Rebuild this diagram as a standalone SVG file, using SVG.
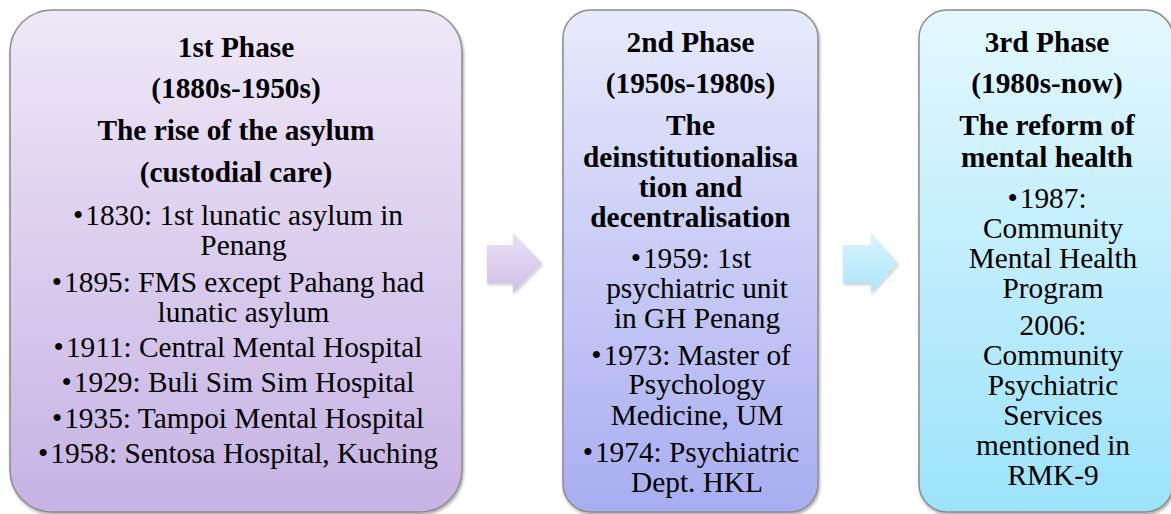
<svg xmlns="http://www.w3.org/2000/svg" width="1171" height="514" viewBox="0 0 1171 514">
<style>
  text { font-family: 'Liberation Serif', 'DejaVu Serif', serif; font-size: 29.33px; fill: #000; text-anchor: middle; }
  .t { font-weight: bold; }
  .box { stroke: #8c8c8c; stroke-width: 1.5; filter: url(#sh); }
  .arr { stroke: none; filter: url(#sh2); }
</style>
<defs>
  <linearGradient id="g1" x1="0" y1="0" x2="0" y2="1">
    <stop offset="0" stop-color="#eee8f7"/>
    <stop offset="1" stop-color="#c6b2e4"/>
  </linearGradient>
  <linearGradient id="g2" x1="0" y1="0" x2="0" y2="1">
    <stop offset="0" stop-color="#e8eafc"/>
    <stop offset="1" stop-color="#a8adf0"/>
  </linearGradient>
  <linearGradient id="g3" x1="0" y1="0" x2="0" y2="1">
    <stop offset="0" stop-color="#e4f8fe"/>
    <stop offset="1" stop-color="#9ce3fa"/>
  </linearGradient>
  <linearGradient id="ga1" x1="0" y1="0" x2="0" y2="1">
    <stop offset="0" stop-color="#e8e0f3"/>
    <stop offset="1" stop-color="#d0c0e9"/>
  </linearGradient>
  <linearGradient id="ga2" x1="0" y1="0" x2="0" y2="1">
    <stop offset="0" stop-color="#daf4fd"/>
    <stop offset="1" stop-color="#aae6fa"/>
  </linearGradient>
  <filter id="sh" x="-5%" y="-5%" width="110%" height="110%">
    <feDropShadow dx="1" dy="2" stdDeviation="1.5" flood-color="#000" flood-opacity="0.35"/>
  </filter>
  <filter id="sh2" x="-20%" y="-20%" width="140%" height="140%">
    <feDropShadow dx="1" dy="2" stdDeviation="1.5" flood-color="#000" flood-opacity="0.2"/>
  </filter>
</defs>
<rect width="1171" height="514" fill="#ffffff"/>

<g id="connectors">
  <path class="arr" fill="url(#ga1)" d="M487,245 L513,245 L513,233 L542,263 L513,293 L513,283 L487,283 Z"/>
  <path class="arr" fill="url(#ga2)" d="M843,245 L871,245 L871,233 L898,263 L871,293 L871,283 L843,283 Z"/>
</g>

<g font-family="Liberation Serif, serif">
<g id="phase1">
  <rect class="box" x="10" y="10" width="452" height="502" rx="42" ry="42" fill="url(#g1)"/>
  <text class="t" x="236" y="57">1st Phase</text>
  <text class="t" x="236" y="98">(1880s-1950s)</text>
  <text class="t" x="236" y="140">The rise of the asylum</text>
  <text class="t" x="236" y="182">(custodial care)</text>
  <text x="238" y="225">•<tspan dx="2">1830: 1st lunatic asylum in</tspan></text>
  <text x="243.5" y="255">Penang</text>
  <text x="238" y="292">•<tspan dx="2">1895: FMS except Pahang had</tspan></text>
  <text x="243.5" y="322">lunatic asylum</text>
  <text x="238" y="357">•<tspan dx="2">1911: Central Mental Hospital</tspan></text>
  <text x="238" y="392">•<tspan dx="2">1929: Buli Sim Sim Hospital</tspan></text>
  <text x="238" y="428">•<tspan dx="2">1935: Tampoi Mental Hospital</tspan></text>
  <text x="238" y="463">•<tspan dx="2">1958: Sentosa Hospital, Kuching</tspan></text>
</g>

<g id="phase2">
  <rect class="box" x="563" y="10" width="255" height="502" rx="28" ry="28" fill="url(#g2)"/>
  <text class="t" x="690.5" y="52">2nd Phase</text>
  <text class="t" x="690.5" y="93">(1950s-1980s)</text>
  <text class="t" x="690.5" y="135">The</text>
  <text class="t" x="690.5" y="167">deinstitutionalisa</text>
  <text class="t" x="690.5" y="197">tion and</text>
  <text class="t" x="690.5" y="227">decentralisation</text>
  <text x="691" y="268">•<tspan dx="2">1959: 1st</tspan></text>
  <text x="697" y="298">psychiatric unit</text>
  <text x="697" y="328">in GH Penang</text>
  <text x="691" y="365">•<tspan dx="2">1973: Master of</tspan></text>
  <text x="697" y="394">Psychology</text>
  <text x="697" y="425">Medicine, UM</text>
  <text x="691" y="462">•<tspan dx="2">1974: Psychiatric</tspan></text>
  <text x="697" y="492">Dept. HKL</text>
</g>

<g id="phase3">
  <rect class="box" x="919" y="10" width="254" height="502" rx="28" ry="28" fill="url(#g3)"/>
  <text class="t" x="1047" y="52">3rd Phase</text>
  <text class="t" x="1047" y="93">(1980s-now)</text>
  <text class="t" x="1047" y="135">The reform of</text>
  <text class="t" x="1047" y="167">mental health</text>
  <text x="1047" y="208">•<tspan dx="2">1987:</tspan></text>
  <text x="1053" y="238">Community</text>
  <text x="1053" y="268">Mental Health</text>
  <text x="1053" y="298">Program</text>
  <text x="1053" y="335">2006:</text>
  <text x="1053" y="365">Community</text>
  <text x="1053" y="395">Psychiatric</text>
  <text x="1053" y="425">Services</text>
  <text x="1053" y="455">mentioned in</text>
  <text x="1053" y="485">RMK-9</text>
</g>
</g>
</svg>
